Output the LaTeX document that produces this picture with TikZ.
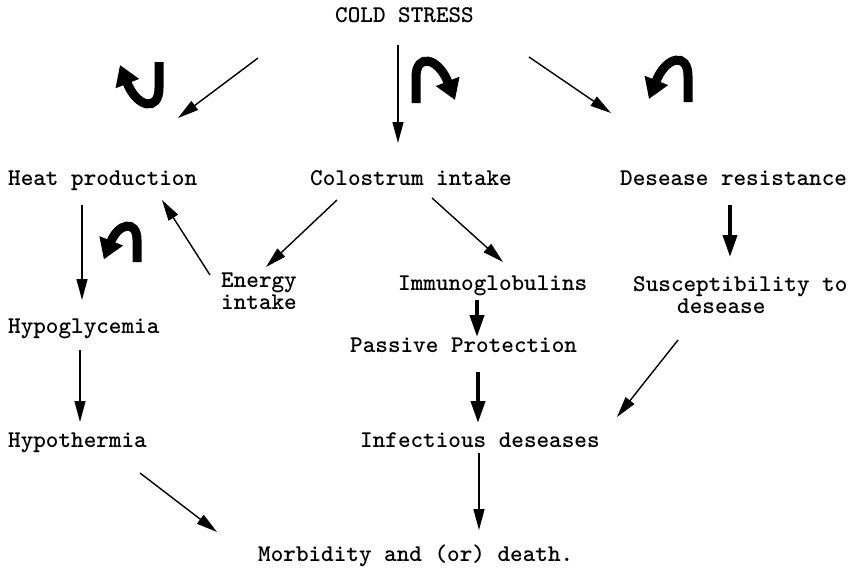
\documentclass[tikz,border=0pt]{standalone}
\usepackage{fontspec}
\usepackage{tikz}
\usetikzlibrary{arrows.meta,calc,positioning}

\tikzset{
  turnline/.style={line width=9pt,-{Triangle[length=20pt,width=24pt]}},
  turn/.pic={\draw[turnline] (0,0) -- (0,26) .. controls (0,50) and (-22,46) .. (-39,3);}
}

\begin{document}
\begin{tikzpicture}[x=1pt,y=-1pt,
    lbl/.style={font=\fontsize{24}{22}\selectfont\ttfamily\bfseries,inner sep=0pt,anchor=base west},
    thinarrow/.style={line width=1.4pt,-{Triangle[length=21pt,width=11pt]}},
    thickarrow/.style={line width=4pt,-{Triangle[length=22pt,width=14pt]}}]
  \useasboundingbox (0,0) rectangle (849,568);

  % 顶部
  \node[lbl] (cold) at (335,22) {COLD STRESS};

  % 第二行
  \node[lbl] (heat)   at (8,185)   {Heat production};
  \node[lbl] (colos)  at (310,185) {Colostrum intake};
  \node[lbl] (resist) at (620,185) {Desease resistance};

  % 中间
  \node[lbl,align=center] (energy) at (221,309) {Energy\\intake};
  \node[lbl] (immuno) at (398,290) {Immunoglobulins};
  \node[lbl,align=left] (suscept) at (633,313) {Susceptibility to\\\hspace*{44pt}desease};
  \node[lbl] (hypogly) at (8,333)  {Hypoglycemia};
  \node[lbl] (passive) at (350,352) {Passive Protection};

  % 下方
  \node[lbl] (hypoth) at (8,447)   {Hypothermia};
  \node[lbl] (infect) at (360,447) {Infectious deseases};
  \node[lbl] (morb)   at (258,561) {Morbidity and (or) death.};

  % 箭头
  \draw[thinarrow] ([shift={(-77,36)}]cold.base west) -- ([shift={(170,-67)}]heat.base west);
  \draw[thinarrow] ([shift={(63,23)}]cold.base west) -- ([shift={(88,-42)}]colos.base west);
  \draw[thinarrow] ([shift={(194,35)}]cold.base west) -- ([shift={(-9,-72)}]resist.base west);
  \draw[thinarrow] ([shift={(74,20)}]heat.base west) -- ([shift={(74,-33)}]hypogly.base west);
  \draw[thinarrow] ([shift={(-11,-34)}]energy.base west) -- ([shift={(154,15)}]heat.base west);
  \draw[thinarrow] ([shift={(27,15)}]colos.base west) -- ([shift={(45,-42)}]energy.base west);
  \draw[thinarrow] ([shift={(122,13)}]colos.base west) -- ([shift={(105,-28)}]immuno.base west);
  \draw[thickarrow] ([shift={(110,20)}]resist.base west) -- ([shift={(97,-56)}]suscept.base west);
  \draw[thickarrow] ([shift={(79,10)}]immuno.base west) -- ([shift={(127,-15)}]passive.base west);
  \draw[thickarrow] ([shift={(128,20)}]passive.base west) -- ([shift={(118,-24)}]infect.base west);
  \draw[thinarrow] ([shift={(45,27)}]suscept.base west) -- ([shift={(257,-30)}]infect.base west);
  \draw[thinarrow] ([shift={(72,17)}]hypogly.base west) -- ([shift={(72,-25)}]hypoth.base west);
  \draw[thinarrow] ([shift={(132,26)}]hypoth.base west) -- ([shift={(-41,-29)}]morb.base west);
  \draw[thinarrow] ([shift={(119,6)}]infect.base west) -- ([shift={(221,-31)}]morb.base west);

  % 弯箭头
  \pic at (159,62) {turn};
  \pic[rotate=180] at (416,103) {turn};
  \pic[yscale=-1] at (688,102) {turn};
  \pic[yscale=-1,scale=0.85] at (137,262) {turn};
\end{tikzpicture}
\end{document}
